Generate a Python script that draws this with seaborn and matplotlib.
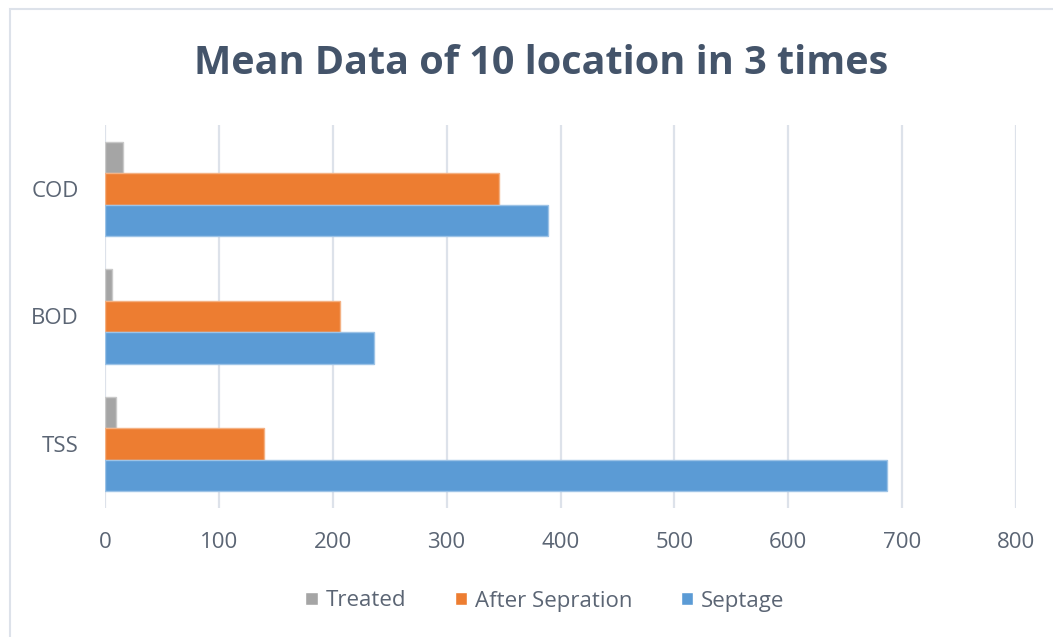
import matplotlib
matplotlib.use("Agg")
import matplotlib.pyplot as plt
import seaborn as sns
import pandas as pd
from matplotlib.patches import Rectangle

# data
categories = ["COD", "BOD", "TSS"]
series_names = ["Treated", "After Sepration", "Septage"]
treated = [16, 6, 10]
after_sepration = [346, 206, 140]
septage = [389, 236, 687]
x_ticks = [0, 100, 200, 300, 400, 500, 600, 700, 800]

colors = {"Treated": "#A5A5A5", "After Sepration": "#ED7D31", "Septage": "#5B9BD5"}
edges = {"Treated": "#C9C9C9", "After Sepration": "#F4B183", "Septage": "#9DC3E6"}

sns.set_theme(style="white")
plt.rcParams["font.family"] = ["Open Sans", "DejaVu Sans"]

rows = []
for name, vals in zip(series_names, [treated, after_sepration, septage]):
    for cat, v in zip(categories, vals):
        rows.append({"Parameter": cat, "Series": name, "Value": v})
df = pd.DataFrame(rows)

fig = plt.figure(figsize=(10.53, 6.37), dpi=100)
ax = fig.add_axes([105 / 1053, 1 - 508 / 637, (1016 - 105) / 1053, (508 - 125) / 637])

sns.barplot(data=df, x="Value", y="Parameter", hue="Series", order=categories,
            hue_order=series_names, palette=colors, orient="h", width=0.74,
            saturation=1, ax=ax)

for container, name in zip(ax.containers, series_names):
    for bar in container:
        bar.set_edgecolor(edges[name])
        bar.set_linewidth(1)

ax.set_xlim(0, 800)
ax.set_xticks(x_ticks)
ax.set_xlabel("")
ax.set_ylabel("")
ax.grid(axis="x", color="#DDE2EA", linewidth=1.6)
ax.grid(axis="y", visible=False)
ax.set_axisbelow(True)
for s in ax.spines.values():
    s.set_visible(False)
ax.tick_params(axis="x", length=0, pad=17, labelsize=16, labelcolor="#5B6574")
ax.tick_params(axis="y", length=0, pad=19, labelsize=16, labelcolor="#5B6574")

fig.text(541 / 1053, 1 - 63 / 637, "Mean Data of 10 location in 3 times",
         ha="center", va="center", fontsize=28.5, fontweight="bold", color="#44546A")

ax.legend(loc="center", bbox_to_anchor=(545 / 1053, 1 - 601 / 637),
          bbox_transform=fig.transFigure, ncol=3, frameon=False,
          fontsize=16, labelcolor="#5B6574", handlelength=0.55, handleheight=0.55,
          handletextpad=0.35, columnspacing=2.2)

fig.patches.append(Rectangle((10 / 1053, -0.05), 1.2, 1 - 9 / 637 + 0.05,
                             transform=fig.transFigure, fill=False,
                             edgecolor="#DDE2EA", linewidth=1.5, zorder=0))

fig.savefig("out.png", dpi=100, facecolor="white")
